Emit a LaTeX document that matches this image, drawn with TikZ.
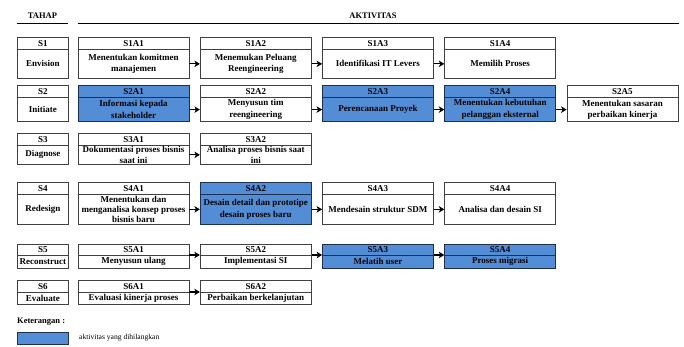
\documentclass[tikz,border=0pt]{standalone}
\usepackage{fontspec}
\setmainfont{Liberation Serif}
\usetikzlibrary{arrows.meta}

\definecolor{hidblue}{HTML}{538DD5}
\definecolor{hidline}{HTML}{1F2F4F}
\definecolor{cellline}{HTML}{404040}

\tikzset{
  cell/.style={draw=cellline, line width=0.7pt, inner sep=0pt, minimum width=111pt,
    font=\bfseries\fontsize{9}{11.5}\selectfont, align=center},
  stagecell/.style={cell, minimum width=51pt},
  hidden/.style={fill=hidblue, draw=hidline},
  flow/.style={-{Stealth[length=5.5pt,width=6.5pt,inset=1.5pt]}, line width=1.2pt},
  rule/.style={line width=1.6pt},
  heading/.style={font=\bfseries\fontsize{8.5}{10}\selectfont, inner sep=0pt},
}

% one cell: a heading strip above a text body
% #1 name, #2 left x, #3 top, #4 divider, #5 bottom, #6 heading, #7 text, #8 extra style
\newcommand\cellpair[8]{%
  \node[cell,#8,anchor=north west,minimum height={(#4-#3)*1pt}] (#1h) at (#2,#3) {#6};
  \node[cell,#8,anchor=north west,minimum height={(#5-#4)*1pt}] (#1) at (#2,#4) {#7};
}

\begin{document}
\begin{tikzpicture}[x=1pt,y=-1pt]
\useasboundingbox (0,0) rectangle (684,347);

% column headings
\node[heading] (tahap) at (42.5,16) {TAHAP};
\node[heading] (aktivitas) at (373,16) {AKTIVITAS};
\coordinate (tahapL) at (17,23.5);
\coordinate (tahapR) at (68,23.5);
\coordinate (aktL) at (77.5,23.5);
\coordinate (aktR) at (678.5,23.5);
\draw[rule] (tahapL) -- (tahapR);
\draw[rule] (aktL) -- (aktR);

% S1 Envision
\cellpair{s1}{17}{37}{49}{78}{S1}{Envision}{stagecell}
\cellpair{s1a1}{77.7}{37}{49}{78}{S1A1}{Menentukan komitmen\\manajemen}{}
\cellpair{s1a2}{199.9}{37}{49}{78}{S1A2}{Menemukan Peluang\\Reengineering}{}
\cellpair{s1a3}{322.1}{37}{49}{78}{S1A3}{Identifikasi IT Levers}{}
\cellpair{s1a4}{444.3}{37}{49}{78}{S1A4}{Memilih Proses}{}
\draw[flow] (s1a1.east) -- (s1a2.west);
\draw[flow] (s1a2.east) -- (s1a3.west);
\draw[flow] (s1a3.east) -- (s1a4.west);

% S2 Initiate
\cellpair{s2}{17}{85}{97.5}{121}{S2}{Initiate}{stagecell}
\cellpair{s2a1}{77.7}{85}{97.5}{121}{S2A1}{Informasi kepada\\stakeholder}{hidden}
\cellpair{s2a2}{199.9}{85}{97.5}{121}{S2A2}{Menyusun tim\\reengineering}{}
\cellpair{s2a3}{322.1}{85}{97.5}{121}{S2A3}{Perencanaan Proyek}{hidden}
\cellpair{s2a4}{444.3}{85}{97.5}{121}{S2A4}{Menentukan kebutuhan\\pelanggan eksternal}{hidden}
\cellpair{s2a5}{566.6}{85}{97.5}{121}{S2A5}{Menentukan sasaran\\perbaikan kinerja}{}
\draw[flow] (s2a1.east) -- (s2a2.west);
\draw[flow] (s2a2.east) -- (s2a3.west);
\draw[flow] (s2a3.east) -- (s2a4.west);
\draw[flow] (s2a4.east) -- (s2a5.west);

% S3 Diagnose
\cellpair{s3}{17}{133.5}{145}{164}{S3}{Diagnose}{stagecell}
\cellpair{s3a1}{77.7}{133.5}{145}{164}{S3A1}{Dokumentasi proses bisnis\\[-1pt]saat ini}{}
\cellpair{s3a2}{199.9}{133.5}{145}{164}{S3A2}{Analisa proses bisnis saat\\[-1pt]ini}{}
\draw[flow] (s3a1.east) -- (s3a2.west);

% S4 Redesign
\cellpair{s4}{17}{182.5}{194}{224}{S4}{Redesign}{stagecell}
\cellpair{s4a1}{77.7}{182.5}{194}{224}{S4A1}{Menentukan dan\\[-1.5pt]menganalisa konsep proses\\[-1.5pt]bisnis baru}{}
\cellpair{s4a2}{199.9}{182.5}{194}{224}{S4A2}{Desain detail dan prototipe\\desain proses baru}{hidden}
\cellpair{s4a3}{322.1}{182.5}{194}{224}{S4A3}{Mendesain struktur SDM}{}
\cellpair{s4a4}{444.3}{182.5}{194}{224}{S4A4}{Analisa dan desain SI}{}
\draw[flow] (s4a1.east) -- (s4a2.west);
\draw[flow] (s4a2.east) -- (s4a3.west);
\draw[flow] (s4a3.east) -- (s4a4.west);

% S5 Reconstruct
\cellpair{s5}{17}{243.5}{255}{267.5}{S5}{Reconstruct}{stagecell}
\cellpair{s5a1}{77.7}{243.5}{255}{267.5}{S5A1}{Menyusun ulang}{}
\cellpair{s5a2}{199.9}{243.5}{255}{267.5}{S5A2}{Implementasi SI}{}
\cellpair{s5a3}{322.1}{243.5}{255}{267.5}{S5A3}{Melatih user}{hidden}
\cellpair{s5a4}{444.3}{243.5}{255}{267.5}{S5A4}{Proses migrasi}{hidden}
\draw[flow] (s5a1.north east) -- (s5a2.north west);
\draw[flow] (s5a2.north east) -- (s5a3.north west);
\draw[flow] (s5a3.north east) -- (s5a4.north west);

% S6 Evaluate
\cellpair{s6}{17}{280}{292}{304}{S6}{Evaluate}{stagecell}
\cellpair{s6a1}{77.7}{280}{292}{304}{S6A1}{Evaluasi kinerja proses}{}
\cellpair{s6a2}{199.9}{280}{292}{304}{S6A2}{Perbaikan berkelanjutan}{}
\draw[flow] (s6a1.north east) -- (s6a2.north west);

% legend
\node[heading, anchor=west] (ket) at (17,322) {Keterangan :};
\node[hidden, line width=0.7pt, inner sep=0pt, minimum width=51pt, minimum height=11.5pt,
      anchor=north west] (legbox) at (17,332) {};
\node[anchor=west, inner sep=0pt, font=\fontsize{7.6}{9}\selectfont] (legtext) at (79,338)
  {aktivitas yang dihilangkan};
\end{tikzpicture}
\end{document}
